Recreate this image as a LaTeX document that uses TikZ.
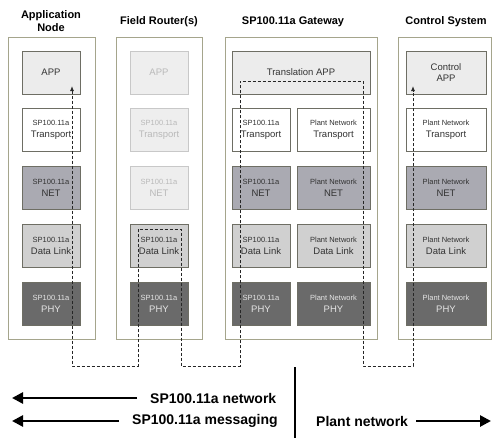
\documentclass[tikz,border=0pt]{standalone}
\usepackage{fontspec}
\setmainfont{Liberation Sans}
\usetikzlibrary{arrows.meta}
\definecolor{outerc}{RGB}{165,165,140}
\definecolor{innerc}{RGB}{110,110,100}
\definecolor{appfill}{RGB}{236,236,236}
\definecolor{netfill}{RGB}{170,170,178}
\definecolor{dlfill}{RGB}{208,208,208}
\definecolor{phyfill}{RGB}{106,106,106}
\definecolor{fadefill}{RGB}{238,238,238}
\definecolor{fadetext}{RGB}{185,185,185}
\definecolor{fadeline}{RGB}{200,200,200}
\newcommand{\two}[2]{{\fontsize{7.5}{9}\selectfont #1}\\[1pt]{\fontsize{9.5}{11}\selectfont #2}}
\begin{document}
\begin{tikzpicture}[x=1pt,y=-1pt,
  outerbox/.style={draw=outerc,line width=0.8pt,fill=white},
  layer/.style={draw=innerc,line width=0.6pt,minimum height=43pt,inner sep=0pt,align=center,
    font=\fontsize{9.5}{11}\selectfont,text=black!80},
  appl/.style={layer,fill=appfill},
  trl/.style={layer,fill=white},
  netl/.style={layer,fill=netfill},
  dll/.style={layer,fill=dlfill},
  phyl/.style={layer,fill=phyfill,text=white!90!black},
  faded/.style={layer,fill=fadefill,draw=fadeline,text=fadetext},
  title/.style={font=\fontsize{11}{13}\selectfont\bfseries,align=center,inner sep=0pt},
  msg/.style={dashed,dash pattern=on 3pt off 2pt,line width=0.9pt,black!85,
    arrows={Latex[length=5pt,width=4pt]-Latex[length=5pt,width=4pt]}},
  bigarrow/.style={line width=2.6pt,-{Triangle[length=11pt,width=11pt]}},
  blabel/.style={font=\fontsize{14}{16}\selectfont\bfseries,anchor=west,inner sep=0pt},
]
\useasboundingbox (0,0) rectangle (495,444);
% outer boxes
\node[outerbox,minimum width=87pt,minimum height=302pt,inner sep=0pt] (colA) at (51.5,188) {};
\node[outerbox,minimum width=86pt,minimum height=302pt,inner sep=0pt] (colB) at (159,188) {};
\node[outerbox,minimum width=152pt,minimum height=302pt,inner sep=0pt] (colC) at (301,188) {};
\node[outerbox,minimum width=93pt,minimum height=302pt,inner sep=0pt] (colD) at (444.5,188) {};
% titles
\node[title] (tA) at (51,21.5) {Application\\Node};
\node[title] (tB) at (159,22) {Field Router(s)};
\node[title] (tC) at (293,22) {SP100.11a Gateway};
\node[title] (tD) at (446,22) {Control System};
% Application node
\node[appl,minimum width=58pt] (a1) at (51,72.5) {APP};
\node[trl,minimum width=58pt] (a2) at (51,130) {\two{SP100.11a}{Transport}};
\node[netl,minimum width=58pt] (a3) at (51,187.5) {\two{SP100.11a}{NET}};
\node[dll,minimum width=58pt] (a4) at (51,245.5) {\two{SP100.11a}{Data Link}};
\node[phyl,minimum width=58pt] (a5) at (51,303.5) {\two{SP100.11a}{PHY}};
% Field router
\node[faded,minimum width=58pt] (b1) at (159,72.5) {APP};
\node[faded,minimum width=58pt] (b2) at (159,130) {\two{SP100.11a}{Transport}};
\node[faded,minimum width=58pt] (b3) at (159,187.5) {\two{SP100.11a}{NET}};
\node[dll,minimum width=58pt] (b4) at (159,245.5) {\two{SP100.11a}{Data Link}};
\node[phyl,minimum width=58pt] (b5) at (159,303.5) {\two{SP100.11a}{PHY}};
% Gateway
\node[appl,minimum width=138pt] (c1) at (301,72.5) {Translation APP};
\node[trl,minimum width=58pt] (c2) at (261,130) {\two{SP100.11a}{Transport}};
\node[netl,minimum width=58pt] (c3) at (261,187.5) {\two{SP100.11a}{NET}};
\node[dll,minimum width=58pt] (c4) at (261,245.5) {\two{SP100.11a}{Data Link}};
\node[phyl,minimum width=58pt] (c5) at (261,303.5) {\two{SP100.11a}{PHY}};
\node[trl,minimum width=73pt] (e2) at (333.5,130) {\two{Plant Network}{Transport}};
\node[netl,minimum width=73pt] (e3) at (333.5,187.5) {\two{Plant Network}{NET}};
\node[dll,minimum width=73pt] (e4) at (333.5,245.5) {\two{Plant Network}{Data Link}};
\node[phyl,minimum width=73pt] (e5) at (333.5,303.5) {\two{Plant Network}{PHY}};
% Control system
\node[appl,minimum width=80pt] (d1) at (446,72.5) {Control\\APP};
\node[trl,minimum width=80pt] (d2) at (446,130) {\two{Plant Network}{Transport}};
\node[netl,minimum width=80pt] (d3) at (446,187.5) {\two{Plant Network}{NET}};
\node[dll,minimum width=80pt] (d4) at (446,245.5) {\two{Plant Network}{Data Link}};
\node[phyl,minimum width=80pt] (d5) at (446,303.5) {\two{Plant Network}{PHY}};
% message path
\coordinate (m0) at (72,86);
\coordinate (m1) at (72,366);
\coordinate (m2) at (138,366);
\coordinate (m3) at (138,229);
\coordinate (m4) at (181,229);
\coordinate (m5) at (181,366);
\coordinate (m6) at (240,366);
\coordinate (m7) at (240,81);
\coordinate (m8) at (363,81);
\coordinate (m9) at (363,366);
\coordinate (m10) at (413,366);
\coordinate (m11) at (413,86);
\draw[msg] (m0) -- (m1) -- (m2) -- (m3) -- (m4) -- (m5) -- (m6) -- (m7) -- (m8) -- (m9) -- (m10) -- (m11);
% legend
\node[blabel] (ln) at (150,398) {SP100.11a network};
\node[blabel] (lm) at (132,421) {SP100.11a messaging};
\node[blabel] (lp) at (316,421) {Plant network};
\coordinate (lnT) at (12,398);
\coordinate (lmT) at (12,421);
\coordinate (lpT) at (491,421);
\draw[bigarrow] (ln.west) ++(-13,0) -- (lnT);
\draw[bigarrow] (lm.west) ++(-13,0) -- (lmT);
\draw[bigarrow] (lp.east) ++(8,0) -- (lpT);
\coordinate (s1) at (295,367);
\coordinate (s2) at (295,438);
\draw[line width=2.4pt] (s1) -- (s2);
\end{tikzpicture}
\end{document}
